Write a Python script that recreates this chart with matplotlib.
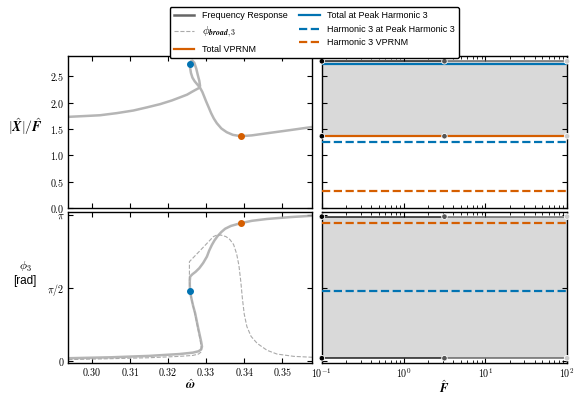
import numpy as np
import matplotlib
matplotlib.use("Agg")
import matplotlib.pyplot as plt
from matplotlib.lines import Line2D
from matplotlib.ticker import FixedLocator, FuncFormatter, LogLocator, NullFormatter

plt.rcParams['mathtext.fontset'] = 'cm'
plt.rcParams['font.family'] = ['Liberation Sans', 'DejaVu Sans']
plt.rcParams['font.size'] = 7.5

BLUE = '#0173b2'
ORANGE = '#d55e00'

# frequency response amplitude (including the loop)
amp_w = [0.2938, 0.2980, 0.3021, 0.3065, 0.3109, 0.3145, 0.3179, 0.3210, 0.3232, 0.3250,
         0.3262, 0.3272, 0.3280, 0.3284, 0.3282, 0.3278, 0.3274, 0.3269, 0.3264, 0.3260,
         0.3258, 0.3258, 0.3260, 0.3264, 0.3270, 0.3277, 0.3284, 0.3290, 0.3295, 0.3300,
         0.3306, 0.3313, 0.3320, 0.3328, 0.3340, 0.3354, 0.3370, 0.3391, 0.3420, 0.3460,
         0.3521, 0.3580]
amp_y = [1.73, 1.745, 1.76, 1.80, 1.85, 1.91, 1.97, 2.04, 2.10, 2.15,
         2.20, 2.24, 2.27, 2.31, 2.41, 2.52, 2.64, 2.75, 2.79, 2.78,
         2.72, 2.65, 2.56, 2.47, 2.40, 2.34, 2.28, 2.20, 2.11, 2.02,
         1.92, 1.80, 1.70, 1.61, 1.51, 1.44, 1.39, 1.365, 1.38, 1.42,
         1.48, 1.54]

# phase of total response
ph_w = [0.2938, 0.3050, 0.3150, 0.3230, 0.3265, 0.3280, 0.3287, 0.3289, 0.3287, 0.3283,
        0.3279, 0.3275, 0.3271, 0.3266, 0.3262, 0.3259, 0.3258, 0.3257, 0.3257, 0.3258,
        0.3264, 0.3272, 0.3282, 0.3292, 0.3302, 0.3308, 0.3315, 0.3322, 0.3330, 0.3340,
        0.3350, 0.3365, 0.3391, 0.3420, 0.3460, 0.3520, 0.3580]
ph_y = [0.05, 0.07, 0.10, 0.14, 0.17, 0.20, 0.24, 0.30, 0.40, 0.55,
        0.70, 0.86, 1.02, 1.17, 1.31, 1.43, 1.50, 1.62, 1.72, 1.81,
        1.86, 1.91, 1.99, 2.10, 2.24, 2.37, 2.49, 2.59, 2.68, 2.77,
        2.84, 2.90, 2.96, 3.01, 3.05, 3.09, 3.12]

# phase of broad harmonic 3
pb_w = [0.2938, 0.3050, 0.3150, 0.3230, 0.3265, 0.3280, 0.3286, 0.3287, 0.3284, 0.3278,
        0.3270, 0.3262, 0.3258, 0.3256, 0.3256, 0.3256, 0.3290, 0.3319, 0.3330, 0.3340,
        0.3352, 0.3362, 0.3372, 0.3380, 0.3386, 0.3391, 0.3395, 0.3400, 0.3407, 0.3418,
        0.3434, 0.3460, 0.3486, 0.3530, 0.3580]
pb_y = [0.02, 0.04, 0.06, 0.09, 0.11, 0.14, 0.18, 0.28, 0.45, 0.70,
        1.02, 1.31, 1.50, 1.70, 1.90, 2.13, 2.42, 2.67, 2.71, 2.70,
        2.67, 2.61, 2.50, 2.30, 2.05, 1.70, 1.35, 1.00, 0.73, 0.52,
        0.37, 0.22, 0.14, 0.09, 0.07]

# markers on the frequency response
peak_w, peak_amp, peak_ph = 0.3258, 2.72, 1.50
vprnm_w, vprnm_amp, vprnm_ph = 0.3391, 1.365, 2.96

# forcing sweep (right panels)
F = [0.1, 3.162, 100.0]
amp_max = [2.78, 2.78, 2.78]
amp_min = [1.364, 1.364, 1.364]
ph_max = [3.10, 3.10, 3.10]
ph_min = [0.05, 0.05, 0.05]
total_peak_amp = [2.72, 2.72, 2.72]
h3_peak_amp = [1.26, 1.26, 1.26]
total_vprnm_amp = [1.364, 1.364, 1.364]
h3_vprnm_amp = [0.33, 0.33, 0.33]
h3_peak_ph = [1.507, 1.507, 1.507]
h3_vprnm_ph = [2.96, 2.96, 2.96]
F_shades = ['#000000', '#555555', '#cccccc']

fig = plt.figure(figsize=(5.81, 3.97), dpi=100)
ax1 = fig.add_axes([0.117, 0.475, 0.420, 0.384])
ax2 = fig.add_axes([0.117, 0.086, 0.420, 0.380])
ax3 = fig.add_axes([0.554, 0.475, 0.422, 0.384])
ax4 = fig.add_axes([0.554, 0.086, 0.422, 0.380])

fr_kw = dict(color='#a8a8a8', alpha=0.85, lw=1.8, solid_capstyle='round', solid_joinstyle='round')
ax1.plot(amp_w, amp_y, **fr_kw)
ax1.plot(peak_w, peak_amp, 'o', color=BLUE, ms=4, zorder=5)
ax1.plot(vprnm_w, vprnm_amp, 'o', color=ORANGE, ms=4, zorder=5)

ax2.plot(pb_w, pb_y, '--', color='#aaaaaa', lw=0.8)
ax2.plot(ph_w, ph_y, **fr_kw)
ax2.plot(peak_w, peak_ph, 'o', color=BLUE, ms=4, zorder=5)
ax2.plot(vprnm_w, vprnm_ph, 'o', color=ORANGE, ms=4, zorder=5)


def sweep_band(ax, lo, hi):
    ax.fill_between(F, lo, hi, color='#d9d9d9', lw=0, zorder=0)
    for vals in (lo, hi):
        for i in range(len(F) - 1):
            ax.plot(F[i:i + 2], vals[i:i + 2], color=F_shades[i], lw=1.2, alpha=0.8, zorder=3)
        ax.scatter(F, vals, c=F_shades, s=16, edgecolors='white', linewidths=0.6, zorder=4, clip_on=False)


sweep_band(ax3, amp_min, amp_max)
ax3.plot(F, total_peak_amp, color=BLUE, lw=1.6, zorder=3)
ax3.plot(F, h3_peak_amp, '--', color=BLUE, lw=1.6, zorder=3)
ax3.plot(F, total_vprnm_amp, color=ORANGE, lw=1.6, zorder=3)
ax3.plot(F, h3_vprnm_amp, '--', color=ORANGE, lw=1.6, zorder=3)

sweep_band(ax4, ph_min, ph_max)
ax4.plot(F, h3_peak_ph, '--', color=BLUE, lw=1.6, zorder=3)
ax4.plot(F, h3_vprnm_ph, '--', color=ORANGE, lw=1.6, zorder=3)

for ax in (ax1, ax2):
    ax.set_xlim(0.2937, 0.3578)
for ax in (ax3, ax4):
    ax.set_xscale('log')
    ax.set_xlim(0.1, 100)
for ax in (ax1, ax3):
    ax.set_ylim(0, 2.88)
for ax in (ax2, ax4):
    ax.set_ylim(-0.05, 3.2)

wticks = [0.30, 0.31, 0.32, 0.33, 0.34, 0.35]
for ax in (ax1, ax2):
    ax.xaxis.set_major_locator(FixedLocator(wticks))
ax1.xaxis.set_major_formatter(NullFormatter())
ax2.xaxis.set_major_formatter(FuncFormatter(lambda v, p: '$%.2f$' % v))

aticks = [0.0, 0.5, 1.0, 1.5, 2.0, 2.5]
for ax in (ax1, ax3):
    ax.yaxis.set_major_locator(FixedLocator(aticks))
ax1.yaxis.set_major_formatter(FuncFormatter(lambda v, p: '$%.1f$' % v))
ax3.yaxis.set_major_formatter(NullFormatter())

for ax in (ax2, ax4):
    ax.set_yticks([0, np.pi / 2, np.pi])
ax2.set_yticklabels(['$0$', r'$\pi/2$', r'$\pi$'])
ax4.set_yticklabels([])

for ax in (ax3, ax4):
    ax.xaxis.set_major_locator(LogLocator(base=10, numticks=10))
    ax.xaxis.set_minor_locator(LogLocator(base=10, subs=np.arange(2, 10), numticks=20))
    ax.xaxis.set_minor_formatter(NullFormatter())
ax3.xaxis.set_major_formatter(NullFormatter())
ax4.xaxis.set_major_formatter(FuncFormatter(lambda v, p: '$10^{%d}$' % round(np.log10(v))))

for ax in (ax1, ax2, ax3, ax4):
    ax.tick_params(which='both', direction='in', top=True, right=True, labelsize=7.2, pad=2.5)
    ax.tick_params(which='major', length=3.5)
    ax.tick_params(which='minor', length=2)
    for s in ax.spines.values():
        s.set_linewidth(1.0)

ax1.set_ylabel(r'$|\hat{\boldsymbol{X}}|/\hat{\boldsymbol{F}}$', rotation=0, fontsize=10,
               ha='center', va='center')
ax1.yaxis.set_label_coords(-0.176, 0.535)
ax2.set_ylabel('$\\phi_3$\n[rad]', rotation=0, fontsize=8.5, ha='center', va='center',
               linespacing=1.1)
ax2.yaxis.set_label_coords(-0.176, 0.59)
ax2.set_xlabel(r'$\hat{\boldsymbol{\omega}}$', fontsize=9, labelpad=0)
ax4.set_xlabel(r'$\hat{\boldsymbol{F}}$', fontsize=9, labelpad=0)

handles = [
    Line2D([], [], color='#666666', lw=1.8),
    Line2D([], [], color='#aaaaaa', lw=0.8, ls='--'),
    Line2D([], [], color=ORANGE, lw=1.6),
    Line2D([], [], color=BLUE, lw=1.6),
    Line2D([], [], color=BLUE, lw=1.6, ls='--'),
    Line2D([], [], color=ORANGE, lw=1.6, ls='--'),
]
labels = ['Frequency Response', r'$\phi_{\boldsymbol{broad,3}}$', 'Total VPRNM',
          'Total at Peak Harmonic 3', 'Harmonic 3 at Peak Harmonic 3', 'Harmonic 3 VPRNM']
leg = fig.legend(handles, labels, loc='upper center', bbox_to_anchor=(0.541, 0.993), ncol=2,
                 fontsize=6.5, frameon=True, fancybox=True, edgecolor='black', framealpha=1,
                 handlelength=2.3, handletextpad=0.8, columnspacing=1.3, labelspacing=0.5,
                 borderpad=0.45)
leg.get_frame().set_linewidth(1.0)
leg.get_texts()[1].set_fontsize(8)

fig.savefig('out.png', dpi=100)
